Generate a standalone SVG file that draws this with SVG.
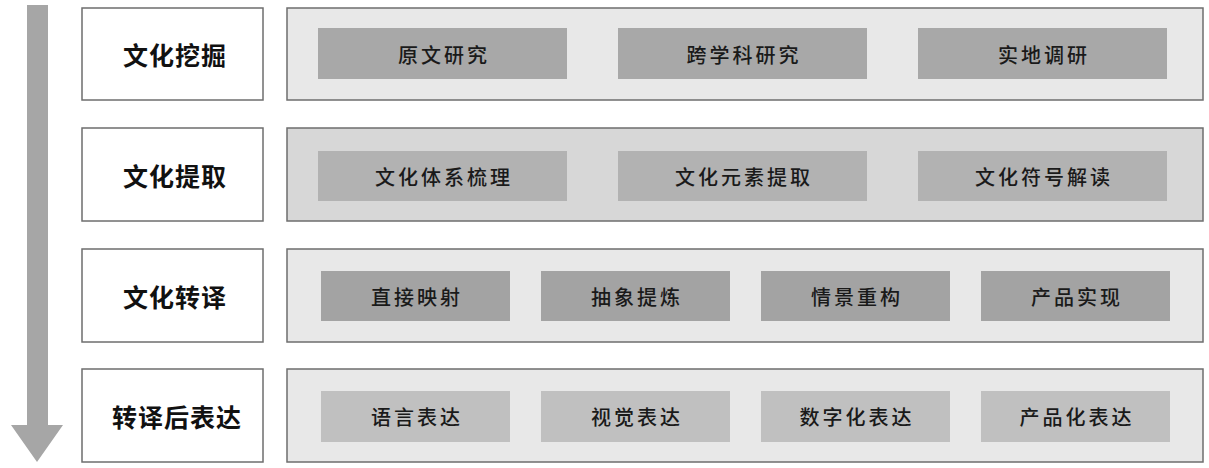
<svg xmlns="http://www.w3.org/2000/svg" width="1209" height="468" viewBox="0 0 1209 468">
<style>
.lbox{fill:#ffffff;stroke:#6e6e6e;stroke-width:1.5}
.rbox{stroke:#6e6e6e;stroke-width:1.5}
.lt{font-family:"Noto Sans CJK SC","Noto Sans",sans-serif;font-weight:700;font-size:25px;letter-spacing:1px;fill:#111;text-anchor:middle;dominant-baseline:central}
.it{font-family:"Noto Sans CJK SC","Noto Sans",sans-serif;font-weight:500;font-size:20px;letter-spacing:3px;fill:#1a1a1a;text-anchor:middle;dominant-baseline:central}
</style>
<rect width="1209" height="468" fill="#ffffff"/>
<g id="connectors">
<path d="M27 5 H48 V425 H63 L37 462 L11 425 H27 Z" fill="#a6a6a6"/>
</g>
<g id="row1">
<rect class="lbox" x="82" y="8" width="181" height="92"/>
<text class="lt" x="175" y="54">文化挖掘</text>
<rect class="rbox" x="287" y="8" width="916" height="92" fill="#e8e8e8"/>
<rect x="318" y="28" width="249" height="51" fill="#a8a8a8"/>
<text class="it" x="444" y="54">原文研究</text>
<rect x="618" y="28" width="249" height="51" fill="#a8a8a8"/>
<text class="it" x="744" y="54">跨学科研究</text>
<rect x="918" y="28" width="249" height="51" fill="#a8a8a8"/>
<text class="it" x="1044" y="54">实地调研</text>
</g>
<g id="row2">
<rect class="lbox" x="82" y="128" width="181" height="93"/>
<text class="lt" x="175" y="175">文化提取</text>
<rect class="rbox" x="287" y="128" width="916" height="93" fill="#d7d7d7"/>
<rect x="318" y="151" width="249" height="50" fill="#b2b2b2"/>
<text class="it" x="444" y="176">文化体系梳理</text>
<rect x="618" y="151" width="249" height="50" fill="#b2b2b2"/>
<text class="it" x="744" y="176">文化元素提取</text>
<rect x="918" y="151" width="249" height="50" fill="#b2b2b2"/>
<text class="it" x="1044" y="176">文化符号解读</text>
</g>
<g id="row3">
<rect class="lbox" x="82" y="249" width="181" height="93"/>
<text class="lt" x="175" y="296">文化转译</text>
<rect class="rbox" x="287" y="249" width="916" height="93" fill="#e8e8e8"/>
<rect x="321" y="271" width="189" height="50" fill="#a3a3a3"/>
<text class="it" x="417" y="296">直接映射</text>
<rect x="541" y="271" width="189" height="50" fill="#a3a3a3"/>
<text class="it" x="637" y="296">抽象提炼</text>
<rect x="761" y="271" width="189" height="50" fill="#a3a3a3"/>
<text class="it" x="857" y="296">情景重构</text>
<rect x="981" y="271" width="189" height="50" fill="#a3a3a3"/>
<text class="it" x="1077" y="296">产品实现</text>
</g>
<g id="row4">
<rect class="lbox" x="82" y="369" width="181" height="93"/>
<text class="lt" x="177" y="416">转译后表达</text>
<rect class="rbox" x="287" y="369" width="916" height="93" fill="#e8e8e8"/>
<rect x="321" y="391" width="189" height="51" fill="#c0c0c0"/>
<text class="it" x="417" y="416">语言表达</text>
<rect x="541" y="391" width="189" height="51" fill="#c0c0c0"/>
<text class="it" x="637" y="416">视觉表达</text>
<rect x="761" y="391" width="189" height="51" fill="#c0c0c0"/>
<text class="it" x="857" y="416">数字化表达</text>
<rect x="981" y="391" width="189" height="51" fill="#c0c0c0"/>
<text class="it" x="1077" y="416">产品化表达</text>
</g>
</svg>
